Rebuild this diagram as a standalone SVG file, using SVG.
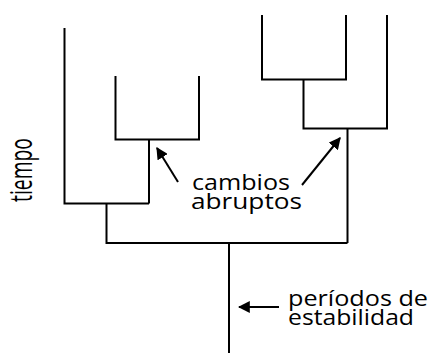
<svg xmlns="http://www.w3.org/2000/svg" width="433" height="354" viewBox="0 0 433 354">
<style>
.ln{fill:none;stroke:#000;stroke-width:2;stroke-linecap:butt;stroke-linejoin:miter}
.ar{fill:none;stroke:#000;stroke-width:2}
.t{font-family:"Open Sans","DejaVu Sans",sans-serif;font-weight:400;font-size:21px;fill:#000}
.tv{font-size:31px;font-weight:400}
</style>
<defs>
<marker id="ah" viewBox="0 0 10 10" refX="9" refY="5" markerWidth="6" markerHeight="6" markerUnits="strokeWidth" orient="auto">
<path d="M0,0 L10,5 L0,10 z" fill="#000"/>
</marker>
</defs>
<rect width="433" height="354" fill="#fff"/>
<g id="tree">
<path class="ln" d="M64.5,28 V203.5 H149 M115.5,76 V139.5 H199 V76 M149,139.5 V203.5 M106.5,203.5 V243 H347.5 M262,15 V79.5 H346 V15 M303.5,79.5 V128.5 H387 V15 M347.5,128.5 V243 M229,243 V353"/>
</g>
<g id="connectors">
<line class="ar" x1="178" y1="182" x2="157" y2="148" marker-end="url(#ah)"/>
<line class="ar" x1="302" y1="185" x2="340" y2="138" marker-end="url(#ah)"/>
<line class="ar" x1="279" y1="307" x2="239" y2="307" marker-end="url(#ah)"/>
</g>
<g id="label-cambios">
<text class="t"><tspan x="192" y="190" textLength="98" lengthAdjust="spacingAndGlyphs">cambios</tspan><tspan x="191" y="209" textLength="111" lengthAdjust="spacingAndGlyphs">abruptos</tspan></text>
</g>
<g id="label-periodos">
<text class="t"><tspan x="288" y="306" textLength="140" lengthAdjust="spacingAndGlyphs">períodos de</tspan><tspan x="288" y="325" textLength="126" lengthAdjust="spacingAndGlyphs">estabilidad</tspan></text>
</g>
<g id="label-tiempo">
<text class="t tv" transform="translate(32,202) rotate(-90)" x="0" y="0" textLength="64" lengthAdjust="spacingAndGlyphs">tiempo</text>
</g>
</svg>
